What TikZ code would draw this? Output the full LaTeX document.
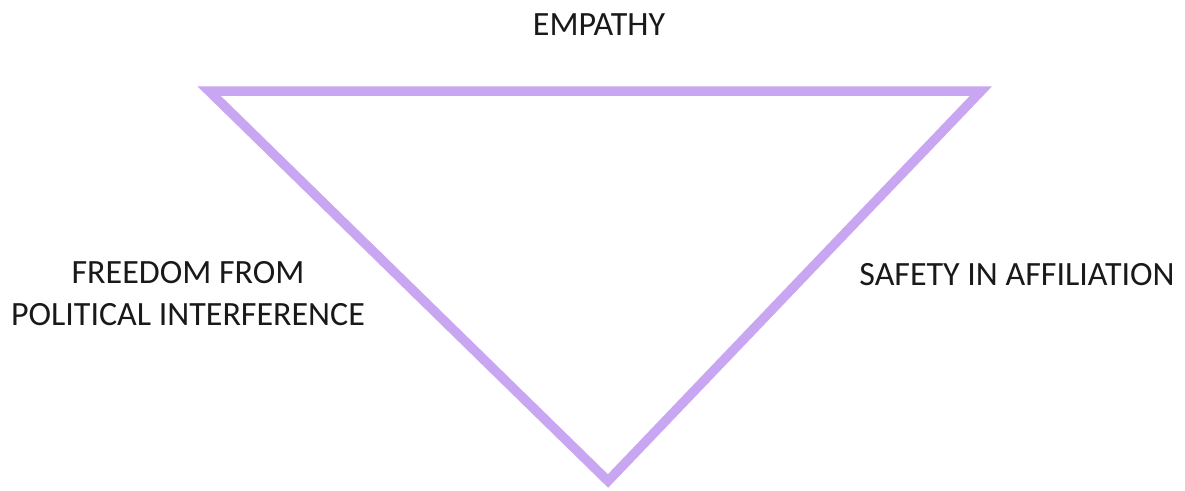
\documentclass[tikz,border=0pt]{standalone}
\usepackage{fontspec}
\setmainfont{Carlito}
\definecolor{lav}{RGB}{200,166,242}
\begin{document}
\begin{tikzpicture}[x=1pt,y=-1pt,
  lbl/.style={font=\fontsize{34}{42}\selectfont, text=black!90, inner sep=0pt, align=center}]
\useasboundingbox (0,0) rectangle (1185,490);
\coordinate (tl) at (209,91);
\coordinate (tr) at (981,91);
\coordinate (bt) at (608,481);
\draw[lav, line width=9.5pt, line join=miter] (tl) -- (tr) -- (bt) -- cycle;
\node[lbl] (emp) at (599,25) {EMPATHY};
\node[lbl] (free) at (188,294) {FREEDOM FROM\\POLITICAL INTERFERENCE};
\node[lbl] (safe) at (1017,275) {SAFETY IN AFFILIATION};
\end{tikzpicture}
\end{document}
